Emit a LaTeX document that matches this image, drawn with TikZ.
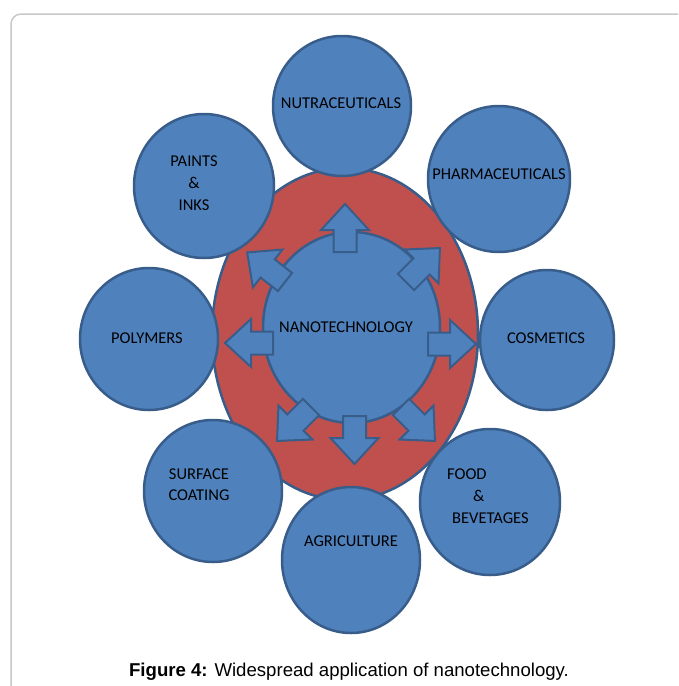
\documentclass[tikz,border=0pt]{standalone}
\usepackage{fontspec}
\setmainfont{Carlito}
\newfontfamily\capfont{Liberation Sans}
\usetikzlibrary{shapes.geometric}
\definecolor{satblue}{HTML}{4F81BD}
\definecolor{rimblue}{HTML}{385D8A}
\definecolor{ringred}{HTML}{C0504D}
\definecolor{framegray}{HTML}{C8C8C8}

\tikzset{
 sat/.style={ellipse, fill=satblue, draw=rimblue, line width=2.5pt, inner sep=0pt},
 lbl/.style={align=center, font=\fontsize{16.5}{22}\selectfont, inner sep=0pt},
 arrowbody/.style={fill=satblue, draw=rimblue, line width=2pt, line join=miter},
 blockarrow/.pic={
  \draw[arrowbody] (0,-11.5) -- (22,-11.5) -- (22,-24) -- (48,0)
   -- (22,24) -- (22,11.5) -- (0,11.5) -- cycle;
 }
}

\begin{document}
\begin{tikzpicture}[x=1pt,y=1pt]
 \clip
 (0,0) rectangle (678,-686)
 ;
 \useasboundingbox (0,0) rectangle (678,-686);
 % frame
 \draw[framegray, line width=1.5pt, rounded corners=10pt]
 (11,-720) -- (11,-14) -- (720,-14);
 % red ring and satellites
 \node[sat, fill=ringred, minimum width=266pt, minimum height=332pt] (ring) at (345,-334) {};
 \node[sat, minimum width=138pt, minimum height=140pt] (nutra) at (342,-106) {};
 \node[sat, minimum width=142pt, minimum height=146pt] (pharma) at (499,-179) {};
 \node[sat, minimum width=134pt, minimum height=140pt] (cosm) at (547,-340) {};
 \node[sat, minimum width=140pt, minimum height=146pt] (food) at (490,-502) {};
 \node[sat, minimum width=138pt, minimum height=146pt] (agri) at (351,-560) {};
 \node[sat, minimum width=138pt, minimum height=142pt] (surf) at (213,-491) {};
 \node[sat, minimum width=138pt, minimum height=142pt] (poly) at (149,-339) {};
 \node[sat, minimum width=140pt, minimum height=144pt] (paint) at (204,-186) {};
 \node[sat, minimum width=177pt, minimum height=191pt] (nano) at (351.5,-327.5) {};
 % arrows
 \foreach \pos/\ang in {
  {(345,-252)}/90, {(406,-282)}/45, {(428,-344)}/0, {(401,-407)}/-45,
  {(354.5,-416)}/-90, {(311,-407)}/-135, {(273,-343)}/180, {(285,-282)}/142}
  \pic[rotate=\ang] at \pos {blockarrow};
 % labels
 \node[lbl] (nanoT) at (346,-327) {NANOTECHNOLOGY};
 \node[lbl] (nutraT) at (341,-103) {NUTRACEUTICALS};
 \node[lbl] (pharmaT) at (499,-174) {PHARMACEUTICALS};
 \node[lbl] (cosmT) at (546,-338) {COSMETICS};
 \node[lbl, align=left, anchor=west] (foodT) at (447,-496)
  {FOOD\\\hspace*{26pt}\&\\\hspace*{5pt}BEVETAGES};
 \node[lbl] (agriT) at (351,-541) {AGRICULTURE};
 \node[lbl, font=\fontsize{16.5}{21}\selectfont] (surfT) at (199,-485) {SURFACE\\COATING};
 \node[lbl] (polyT) at (147,-338) {POLYMERS};
 \node[lbl] (paintT) at (194,-183) {PAINTS\\\&\\INKS};
 % caption
 \node[font=\capfont\fontsize{18.6}{22}\selectfont, inner sep=0pt] (caption) at (349,-672)
  {\textbf{Figure 4:} Widespread application of nanotechnology.};
\end{tikzpicture}
\end{document}
